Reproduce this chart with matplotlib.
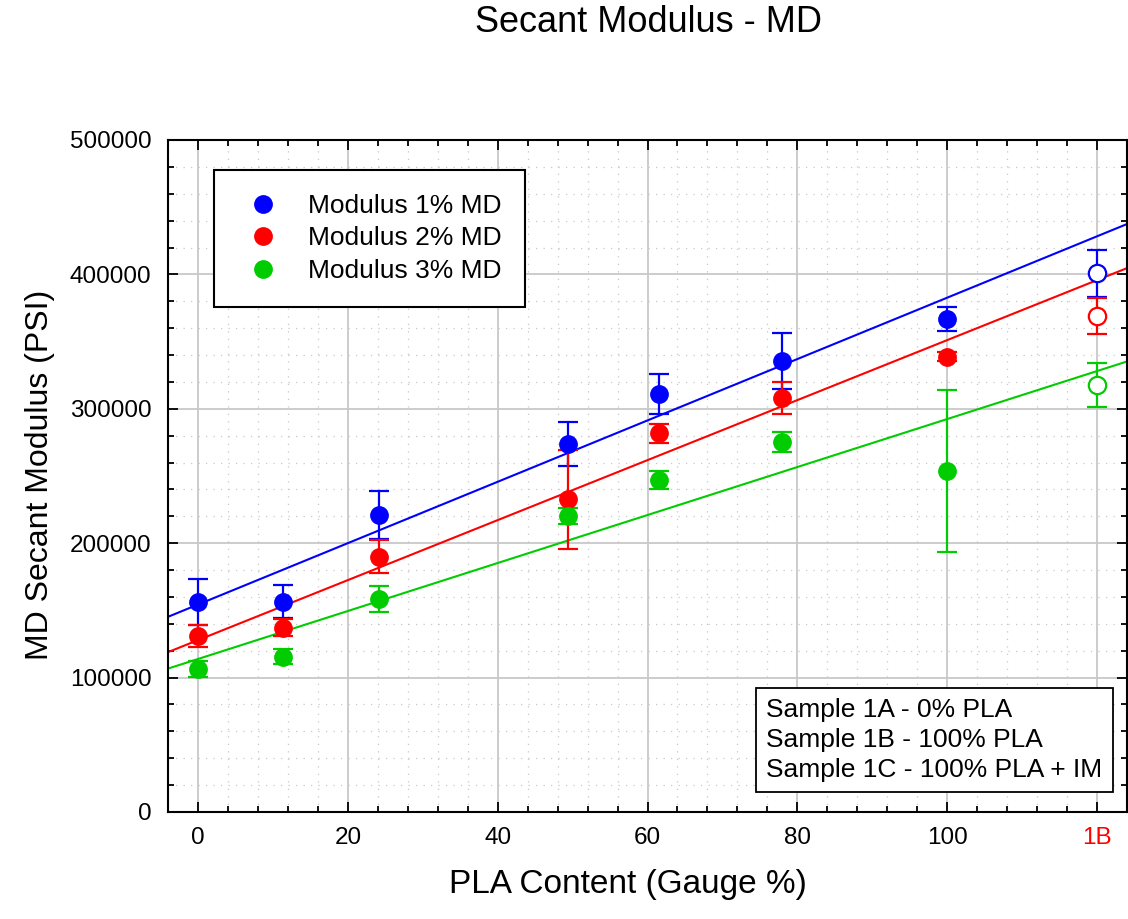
import numpy as np
import matplotlib
matplotlib.use("Agg")
import matplotlib.pyplot as plt
from matplotlib.ticker import MultipleLocator, FixedLocator
from matplotlib.lines import Line2D

plt.rcParams['font.family'] = ['Liberation Sans', 'DejaVu Sans']

# ---- data ----
pla_content = [0, 11.4, 24.1, 49.4, 61.6, 78.0, 100]
x_1b = 120

mod1 = [156500, 156500, 221000, 273800, 311000, 335600, 367000]
err1 = [17000, 12300, 18000, 16600, 14600, 20800, 9000]
mod1_1b, err1_1b = 401000, 17500

mod2 = [131000, 137200, 190000, 232600, 281700, 308300, 338700]
err2 = [8300, 6200, 12300, 36700, 7100, 11800, 3300]
mod2_1b, err2_1b = 369300, 13500

mod3 = [106100, 115600, 158500, 220300, 247000, 275000, 253700]
err3 = [6000, 5500, 9500, 6200, 7000, 7500, 60000]
mod3_1b, err3_1b = 317900, 16500

series_labels = ['Modulus 1% MD', 'Modulus 2% MD', 'Modulus 3% MD']
series_colors = ['#0000ff', '#ff0000', '#00cc00']

x_ticks = [0, 20, 40, 60, 80, 100, 120]
x_ticklabels = ['0', '20', '40', '60', '80', '100', '1B']
y_ticks = [0, 100000, 200000, 300000, 400000, 500000]
y_ticklabels = ['0', '100000', '200000', '300000', '400000', '500000']

note_lines = ['Sample 1A - 0% PLA', 'Sample 1B - 100% PLA', 'Sample 1C - 100% PLA + IM']

# ---- figure ----
W, H = 1128, 919
fig = plt.figure(figsize=(W / 100, H / 100), dpi=100)
ax = fig.add_axes([168 / W, 1 - 812 / H, (1127 - 168) / W, (812 - 140) / H])

xmin, xmax = -4, 124
ax.set_xlim(xmin, xmax)
ax.set_ylim(0, 500000)

series = [
    (mod1, err1, mod1_1b, err1_1b),
    (mod2, err2, mod2_1b, err2_1b),
    (mod3, err3, mod3_1b, err3_1b),
]

xfit = np.array([xmin, xmax])
handles = []
for (vals, errs, v1b, e1b), lab, col in zip(series, series_labels, series_colors):
    k, b = np.polyfit(pla_content, vals, 1)
    ax.plot(xfit, k * xfit + b, color=col, lw=1.5, zorder=2, clip_on=True)
    ax.errorbar(pla_content, vals, yerr=errs, fmt='o', color=col, ms=12.5,
                elinewidth=1.6, capsize=7, capthick=1.6, zorder=3)
    ax.errorbar([x_1b], [v1b], yerr=[e1b], fmt='o', color=col, mfc='white',
                mec=col, mew=1.6, ms=12.5, elinewidth=1.6, capsize=7,
                capthick=1.6, zorder=3)
    handles.append(Line2D([], [], marker='o', ls='none', color=col, ms=12.5, label=lab))

# ticks and grid
ax.xaxis.set_major_locator(FixedLocator(x_ticks))
ax.set_xticklabels(x_ticklabels)
ax.xaxis.set_minor_locator(MultipleLocator(4))
ax.yaxis.set_major_locator(FixedLocator(y_ticks))
ax.set_yticklabels(y_ticklabels)
ax.yaxis.set_minor_locator(MultipleLocator(20000))

ax.tick_params(which='both', direction='in', top=True, right=True, width=1.3)
ax.tick_params(which='major', length=7)
ax.tick_params(which='minor', length=4)
ax.tick_params(axis='x', which='major', labelsize=17.5, pad=11)
ax.tick_params(axis='y', which='major', labelsize=17.5, pad=12)
ax.get_xticklabels()[-1].set_color('#ff0000')

ax.grid(which='major', color='#c8c8c8', lw=1.3, ls='-', zorder=0)
ax.grid(which='minor', color='#c8c8c8', lw=0.9, ls=(0, (1, 5)), zorder=0)
ax.set_axisbelow(True)
for sp in ax.spines.values():
    sp.set_linewidth(1.5)

# legend
leg = ax.legend(handles=handles, loc='upper left',
                bbox_to_anchor=((214 - 168) / 960, (812 - 170) / 672),
                borderaxespad=0, fontsize=19, frameon=True, fancybox=False,
                edgecolor='black', framealpha=1, borderpad=0.9,
                handlelength=1.9, handletextpad=0.75, labelspacing=0.33)
leg.get_frame().set_linewidth(1.5)

# sample note box
ax.text((767 - 168) / 960, (812 - 740) / 672, '\n'.join(note_lines),
        transform=ax.transAxes, ha='left', va='center', fontsize=19,
        linespacing=1.3, zorder=5,
        bbox=dict(boxstyle='square,pad=0.4', fc='white', ec='black', lw=1.3))

# titles
fig.text(648 / W, 1 - 22 / H, 'Secant Modulus - MD', ha='center', va='center', fontsize=26)
fig.text(628 / W, 1 - 885 / H, 'PLA Content (Gauge %)', ha='center', va='center', fontsize=24)
fig.text(40 / W, 1 - 475 / H, 'MD Secant Modulus (PSI)', ha='center', va='center',
         rotation=90, fontsize=23)

fig.savefig('out.png', dpi=100)
